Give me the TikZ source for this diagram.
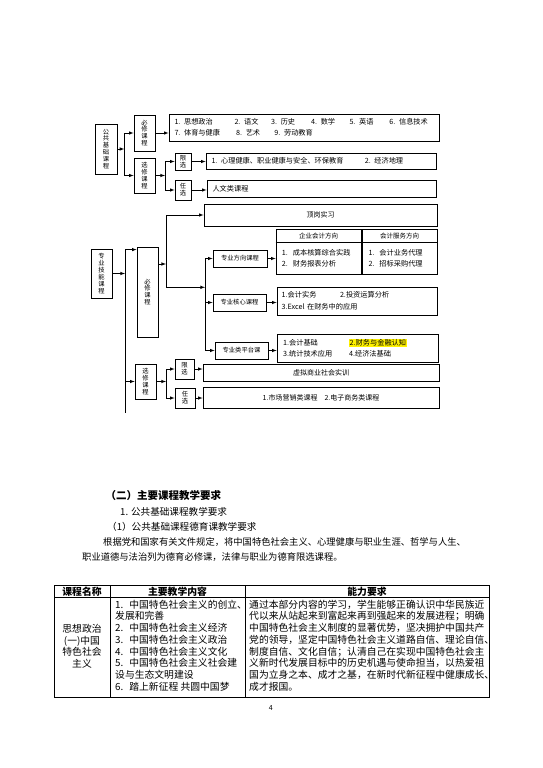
\documentclass[tikz,border=0pt]{standalone}
\usepackage{fontspec}
\setmainfont{Noto Sans CJK SC}
\usepackage{tikz}
\usetikzlibrary{calc}

\tikzset{
  kuang/.style={draw, line width=0.8pt, inner sep=0pt, align=center,
    font=\fontsize{6.3}{6.9}\selectfont},
  zhong/.style={draw, line width=0.8pt, inner sep=0pt, align=center,
    font=\fontsize{7}{9}\selectfont},
  wenben/.style={draw, line width=0.8pt, inner xsep=5.5pt, inner ysep=0pt,
    align=left, font=\fontsize{7.2}{10.6}\selectfont},
  jian/.style={-latex, line width=0.6pt},
  xian/.style={line width=0.6pt},
  biao/.style={line width=0.6pt},
}

\begin{document}
\begin{tikzpicture}[x=1pt, y=-1pt]
  \useasboundingbox (0,0) rectangle (543,768);
  \fill[white] (0,0) rectangle (543,768);
  %% public foundation courses
  \node[kuang, minimum width=22pt, minimum height=50pt] (gj) at (106,149) {公\\共\\基\\础\\课\\程};
  \node[kuang, minimum width=21pt, minimum height=36pt] (gbx) at (144.5,133) {必\\修\\课\\程};
  \node[kuang, minimum width=21pt, minimum height=35pt] (gxx) at (144.5,175.5) {选\\修\\课\\程};
  \node[wenben, text width=259pt, minimum height=27pt] (gbxt) at (304,127.5)
    {\makebox[60pt][l]{1. 思想政治}\makebox[36.7pt][l]{2. 语文}\makebox[40pt][l]{3. 历史}\makebox[38.3pt][l]{4. 数学}\makebox[40pt][l]{5. 英语}6. 信息技术\\
     \makebox[61.7pt][l]{7. 体育与健康}\makebox[38.3pt][l]{8. 艺术}9. 劳动教育};
  \node[kuang, minimum width=16pt, minimum height=17pt] (gxian) at (183,161.5) {限\\选};
  \node[kuang, minimum width=16pt, minimum height=20pt] (gren) at (183,190) {任\\选};
  \node[wenben, text width=219pt, minimum height=16pt] (gxiant) at (321,161)
    {\makebox[153.3pt][l]{1. 心理健康、职业健康与安全、环保教育}2. 经济地理};
  \node[wenben, text width=218pt, minimum height=17pt] (grent) at (321.5,188.5) {人文类课程};
  \coordinate (gb1) at (124.3,149);
  \coordinate (gb2) at (165,175.5);
  \draw[jian] (gj.east) -- (gb1);
  \draw[jian] (gb1) |- (gbx.west);
  \draw[jian] (gb1) |- (gxx.west);
  \draw[jian] (gbx.east) -- (gbx.east -| gbxt.west);
  \draw[jian] (gxx.east) -- (gb2);
  \draw[jian] (gb2) |- (gxian.west);
  \draw[jian] (gb2) |- (gren.west);
  \draw[jian] (gxian.east) -- (gxian.east -| gxiant.west);
  \draw[jian] (gren.east) -- (gren.east -| grent.west);
  %% professional skill courses
  \node[kuang, minimum width=21pt, minimum height=49pt] (zj) at (101.5,273.5) {专\\业\\技\\能\\课\\程};
  \node[kuang, minimum width=21pt, minimum height=90pt] (zbx) at (147.5,292) {必\\修\\课\\程};
  \node[kuang, minimum width=21pt, minimum height=35pt] (zxx) at (145.5,381.5) {选\\修\\课\\程};
  \node[zhong, minimum width=233pt, minimum height=22pt] (dg) at (320.5,215) {顶岗实习};
  \node[kuang, minimum width=54pt, minimum height=17pt] (fx) at (240,258.5) {专业方向课程};
  \node[kuang, minimum width=53pt, minimum height=17pt] (hx) at (239.5,302.5) {专业核心课程};
  \node[kuang, minimum width=53pt, minimum height=17pt] (pt) at (241.5,350.5) {专业类平台课};
  %% direction tables
  \node[draw, line width=0.8pt, minimum width=85pt, minimum height=45pt] (fxa) at (318.5,251.5) {};
  \node[draw, line width=0.8pt, minimum width=75pt, minimum height=45pt] (fxb) at (399.5,251.5) {};
  \draw[line width=0.8pt] ([yshift=-14pt]fxa.north west) -- ([yshift=-14pt]fxa.north east);
  \draw[line width=0.8pt] ([yshift=-14pt]fxb.north west) -- ([yshift=-14pt]fxb.north east);
  \node[font=\fontsize{6.5}{8}\selectfont] (fxah) at (318.5,236.5) {企业会计方向};
  \node[font=\fontsize{6.5}{8}\selectfont] (fxbh) at (399.5,236.5) {会计服务方向};
  \node[anchor=west, inner sep=0pt, align=left, font=\fontsize{7.2}{10.6}\selectfont] (fxat) at (281.7,258)
    {1.\hspace{5pt}成本核算综合实践\\2.\hspace{5pt}财务报表分析};
  \node[anchor=west, inner sep=0pt, align=left, font=\fontsize{7.2}{10.6}\selectfont] (fxbt) at (368.3,258)
    {1.\hspace{5pt}会计业务代理\\2.\hspace{5pt}招标采购代理};
  \node[wenben, inner xsep=4.7pt, text width=150.6pt, minimum height=28pt,
    font=\fontsize{7.2}{11.6}\selectfont] (hxt) at (357,301)
    {\makebox[58.3pt][l]{1.会计实务}2.投资运算分析\\3.Excel 在财务中的应用};
  \node[wenben, inner xsep=6.1pt, text width=148.8pt, minimum height=28pt,
    font=\fontsize{7.2}{11}\selectfont] (ptt) at (357.5,348)
    {\makebox[66pt][l]{1.会计基础}{\fboxsep=0.6pt\colorbox{yellow}{2.财务与金融认知}}\\
     \makebox[66pt][l]{3.统计技术应用}4.经济法基础};
  \node[kuang, minimum width=19pt, minimum height=20pt] (zxian) at (184.5,369) {限\\选};
  \node[kuang, minimum width=20pt, minimum height=20pt] (zren) at (185,398) {任\\选};
  \node[zhong, minimum width=236pt, minimum height=17pt] (zxiant) at (321,372.5) {虚拟商业社会实训};
  \node[zhong, minimum width=236pt, minimum height=21pt] (zrent) at (321,397.5)
    {1.市场营销类课程\hspace{7pt}2.电子商务类课程};
  \coordinate (zb1) at (125,273.5);
  \coordinate (zbend) at (125,413);
  \coordinate (zb2) at (166,264);
  \coordinate (zb3) at (205,287.3);
  \coordinate (zb4) at (166,381.5);
  \draw[jian] (zj.east) -- (zb1);
  \draw[jian] (zb1) |- ([yshift=-3pt]zbx.north west);
  \draw[jian] (zb1) |- (zxx.west);
  \draw[xian] (zb1) -- (zbend);
  \draw[jian] (zbx.east |- zb2) -- (zb2);
  \draw[jian] (zb2) |- (dg.west);
  \draw[jian] (zb2) |- (zb3);
  \draw[jian] (zb3) |- (fx.west);
  \draw[jian] (zb3) |- (hx.west);
  \draw[jian] (zb3) |- (pt.west);
  \draw[jian] (fx.east) -- (fx.east -| fxa.west);
  \draw[jian] (hx.east) -- (hx.east -| hxt.west);
  \draw[jian] (pt.east) -- (pt.east -| ptt.west);
  \draw[jian] (zxx.east) -- (zb4);
  \draw[jian] (zb4) |- (zxian.west);
  \draw[jian] (zb4) |- (zren.west);
  \draw[jian] (zxian.east) -- (zxian.east -| zxiant.west);
  \draw[jian] (zren.east) -- (zren.east -| zrent.west);
  %% text of the page
  \node[anchor=west, inner sep=0pt, font=\fontsize{10.5}{12}\selectfont\bfseries] (bt2) at (105.5,495) {（二）主要课程教学要求};
  \node[anchor=west, inner sep=0pt, font=\fontsize{9.6}{12}\selectfont] (bt21) at (120,511.7) {1. 公共基础课程教学要求};
  \node[anchor=west, inner sep=0pt, font=\fontsize{9.6}{12}\selectfont] (bt211) at (107,526.7) {（1）公共基础课程德育课教学要求};
  \node[anchor=west, inner sep=0pt, font=\fontsize{9.3}{12}\selectfont] (dl1) at (103,541.7)
    {根据党和国家有关文件规定，将中国特色社会主义、心理健康与职业生涯、哲学与人生、};
  \node[anchor=west, inner sep=0pt, font=\fontsize{9.3}{12}\selectfont] (dl2) at (82,557)
    {职业道德与法治列为德育必修课，法律与职业为德育限选课程。};
  %% course table
  \draw[biao] (54,585) rectangle (489,697.7);
  \draw[biao] (54,597.7) -- (489,597.7);
  \draw[biao] (110,585) -- (110,697.7);
  \draw[biao] (245,585) -- (245,697.7);
  \node[font=\fontsize{9.8}{11.77}\selectfont\bfseries] (th1) at (82,591.3) {课程名称};
  \node[font=\fontsize{9.8}{11.77}\selectfont\bfseries] (th2) at (177.5,591.3) {主要教学内容};
  \node[font=\fontsize{9.8}{11.77}\selectfont\bfseries] (th3) at (367,591.3) {能力要求};
  \node[align=center, inner sep=0pt, font=\fontsize{9.8}{11.4}\selectfont] (td1) at (82,646.3)
    {思想政治\\(一)中国\\特色社会\\主义};
  \node[anchor=west, align=left, inner sep=0pt, font=\fontsize{9.8}{11.77}\selectfont] (td2) at (115,645.5)
    {1.\hspace{6pt}中国特色社会主义的创立、\\发展和完善\\2.\hspace{6pt}中国特色社会主义经济\\3.\hspace{6pt}中国特色社会主义政治\\4.\hspace{6pt}中国特色社会主义文化\\5.\hspace{6pt}中国特色社会主义社会建\\设与生态文明建设\\6.\hspace{6pt}踏上新征程 共圆中国梦};
  \node[anchor=west, align=left, inner sep=0pt, font=\fontsize{9.8}{11.77}\selectfont] (td3) at (249,645.5)
    {通过本部分内容的学习，学生能够正确认识中华民族近\\代以来从站起来到富起来再到强起来的发展进程；明确\\中国特色社会主义制度的显著优势，坚决拥护中国共产\\党的领导，坚定中国特色社会主义道路自信、理论自信、\\制度自信、文化自信；认清自己在实现中国特色社会主\\义新时代发展目标中的历史机遇与使命担当，以热爱祖\\国为立身之本、成才之基，在新时代新征程中健康成长、\\成才报国。};
  \node[font=\fontsize{7}{8}\selectfont] (ym) at (270.7,707.5) {4};
\end{tikzpicture}
\end{document}
